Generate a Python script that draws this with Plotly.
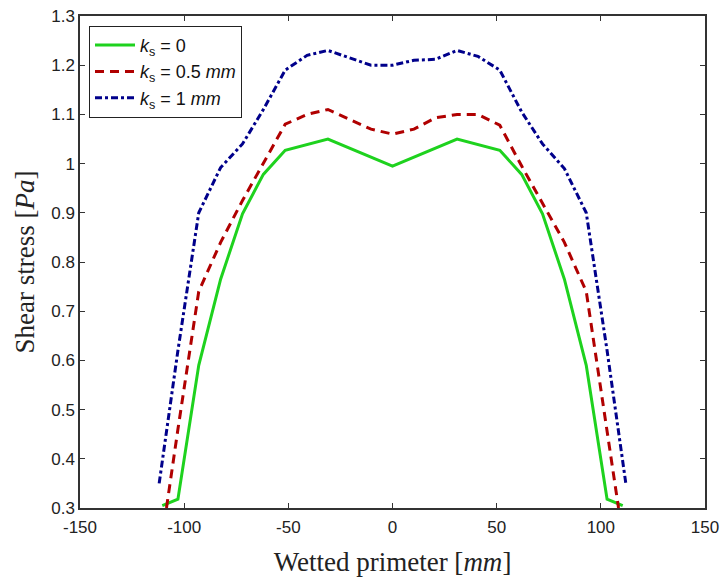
import plotly.graph_objects as go

# Data
x_green = [-110.5, -103, -93, -82.5, -72, -62, -51.5, -31, 0, 31, 51.5, 62, 72, 82.5, 93, 103, 110.5]
y_green = [0.305, 0.318, 0.59, 0.765, 0.898, 0.978, 1.027, 1.05, 0.995, 1.05, 1.027, 0.978, 0.898, 0.765, 0.59, 0.318, 0.305]

x_red = [-108.5, -103, -93, -82.5, -72, -62, -51.5, -41, -31, -20.6, -10.3, 0, 10.3, 20.6, 31, 41, 51.5, 62, 72, 82.5, 93, 103, 108.5]
y_red = [0.30, 0.46, 0.74, 0.84, 0.925, 1.0, 1.08, 1.10, 1.11, 1.09, 1.07, 1.06, 1.07, 1.093, 1.10, 1.10, 1.078, 0.995, 0.92, 0.84, 0.74, 0.46, 0.30]

x_blue = [-112, -103, -93, -82.5, -72, -62, -51.5, -41, -31, -20.6, -10.3, 0, 10.3, 20.6, 31, 41, 51.5, 62, 72, 82.5, 93, 103, 112]
y_blue = [0.35, 0.62, 0.90, 0.992, 1.04, 1.11, 1.19, 1.22, 1.23, 1.215, 1.20, 1.20, 1.21, 1.212, 1.23, 1.218, 1.19, 1.105, 1.04, 0.99, 0.90, 0.62, 0.35]

names = ["<i>k</i><sub>s</sub> = 0", "<i>k</i><sub>s</sub> = 0.5 <i>mm</i>", "<i>k</i><sub>s</sub> = 1 <i>mm</i>"]
x_ticks = [-150, -100, -50, 0, 50, 100, 150]
y_ticks = [0.3, 0.4, 0.5, 0.6, 0.7, 0.8, 0.9, 1.0, 1.1, 1.2, 1.3]
y_tick_labels = ["0.3", "0.4", "0.5", "0.6", "0.7", "0.8", "0.9", "1", "1.1", "1.2", "1.3"]

fig = go.Figure()
fig.add_trace(go.Scatter(x=x_green, y=y_green, mode="lines", name=names[0],
                         line=dict(color="#1ed21e", width=3)))
fig.add_trace(go.Scatter(x=x_red, y=y_red, mode="lines", name=names[1],
                         line=dict(color="#b00000", width=3, dash="9px,6px")))
fig.add_trace(go.Scatter(x=x_blue, y=y_blue, mode="lines", name=names[2],
                         line=dict(color="#00008b", width=3, dash="7px,3px,3px,3px")))

axis_common = dict(showline=True, linecolor="#333333", linewidth=1.5, mirror="ticks",
                   ticks="inside", ticklen=5, tickcolor="#333333", showgrid=False, zeroline=False,
                   automargin=False,
                   tickfont=dict(family="Liberation Sans, Arial", size=17, color="#222222"))

fig.update_xaxes(range=[-150, 150], tickvals=x_ticks, ticktext=[str(v) for v in x_ticks],
                 ticklabelstandoff=3,
                 title=dict(text="Wetted primeter [<i>mm</i>]",
                            font=dict(family="Liberation Serif, Times New Roman", size=27, color="#222222"),
                            standoff=16),
                 **axis_common)
fig.update_yaxes(range=[0.3, 1.3], tickvals=y_ticks, ticktext=y_tick_labels,
                 title=dict(text="Shear stress [<i>Pa</i>]",
                            font=dict(family="Liberation Serif, Times New Roman", size=27, color="#222222"),
                            standoff=9),
                 **axis_common)

fig.update_layout(
    width=723, height=579,
    margin=dict(l=80, r=18, t=16, b=71),
    plot_bgcolor="white", paper_bgcolor="white",
    showlegend=True,
    legend=dict(x=0.0144, y=0.98, xanchor="left", yanchor="top",
                bordercolor="#222222", borderwidth=1, bgcolor="white",
                font=dict(family="Liberation Sans, Arial", size=18, color="#111111"),
                tracegroupgap=0, itemwidth=40),
)

fig.write_html("out.html")
